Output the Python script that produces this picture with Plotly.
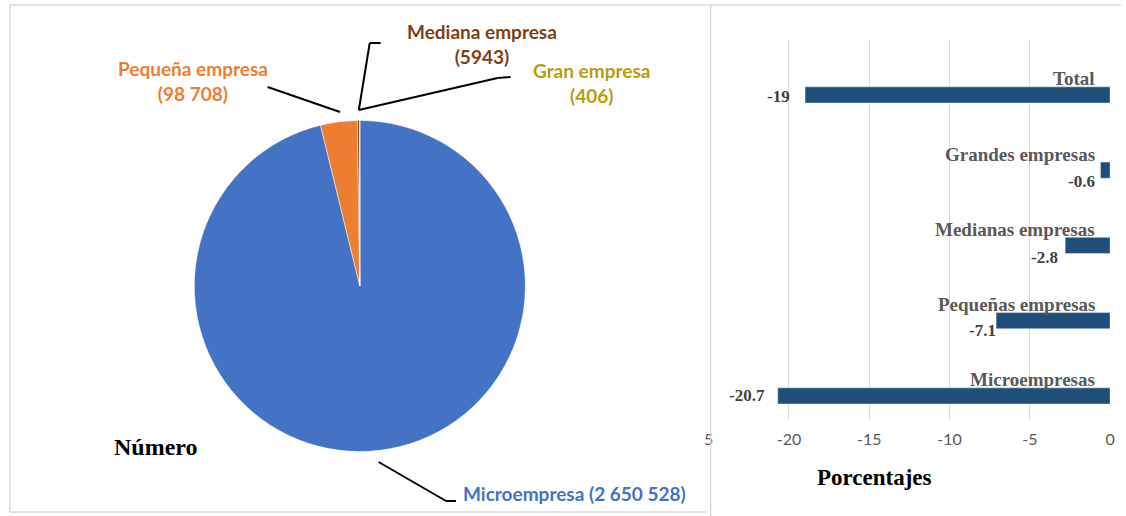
import plotly.graph_objects as go

W, H = 1126, 516

# ---- data ----
pie_labels = ["Microempresa", "Pequeña empresa", "Mediana empresa", "Gran empresa"]
pie_values = [2650528, 98708, 5943, 406]
pie_text = ["Microempresa (2 650 528)", "Pequeña empresa<br>(98 708)",
            "Mediana empresa<br>(5943)", "Gran empresa<br>(406)"]

bar_categories = ["Microempresas", "Pequeñas empresas", "Medianas empresas",
                  "Grandes empresas", "Total"]
bar_values = [-20.7, -7.1, -2.8, -0.6, -19]
bar_value_text = ["-20.7", "-7.1", "-2.8", "-0.6", "-19"]
tick_vals = [-25, -20, -15, -10, -5, 0]
tick_text = ["5", "-20", "-15", "-10", "-5", "0"]


def px(x, y):
    return x / W, 1 - y / H


fig = go.Figure()

# ---- pie ----
pie_colors = ["#4472C4", "#ED7D31", "#843C0C", "#BF9000"]
cx, cy, r = 358, 286, 167
fig.add_trace(go.Pie(
    labels=pie_labels, values=pie_values, sort=False, direction="clockwise",
    rotation=0, marker=dict(colors=pie_colors, line=dict(color="white", width=0.5)),
    textinfo="none", hoverinfo="label+value", showlegend=False,
    domain=dict(x=[(cx - r) / W, (cx + r) / W], y=[1 - (cy + r) / H, 1 - (cy - r) / H]),
))

# ---- bars ----
fig.add_trace(go.Bar(
    x=bar_values, y=bar_categories, orientation="h",
    marker=dict(color="#1F4E79"), width=0.215, showlegend=False,
    xaxis="x", yaxis="y",
))

x0p, x1p = 710 / W, 1115 / W
y_top, y_bot = 40, 420
fig.update_layout(
    width=W, height=H, margin=dict(l=0, r=0, t=0, b=0),
    paper_bgcolor="white", plot_bgcolor="white",
    xaxis=dict(domain=[x0p, x1p], range=[-25, 0], tickvals=tick_vals, ticktext=tick_text,
               showgrid=True, gridcolor="#D9D9D9", gridwidth=1, zeroline=False,
               showline=False, ticks="", tickfont=dict(family="Lato", size=16, color="#595959"),
               ticklabelstandoff=8, fixedrange=True),
    yaxis=dict(domain=[1 - y_bot / H, 1 - y_top / H], type="category",
               categoryorder="array", categoryarray=bar_categories,
               range=[-0.32, 4.73], showticklabels=False, showgrid=False,
               zeroline=False, showline=False, fixedrange=True),
)

# category labels above bars
for cat in bar_categories:
    fig.add_annotation(x=0, y=cat, xref="x", yref="y", text=cat, showarrow=False,
                       xanchor="right", yanchor="middle", xshift=-13, yshift=16,
                       font=dict(family="Liberation Serif", size=19, color="#595959",
                                 weight="bold"))

# value labels (offsets in px)
value_offsets = {"Microempresas": (-11, 0), "Pequeñas empresas": (2, -10),
                 "Medianas empresas": (-5, -12), "Grandes empresas": (-3, -11),
                 "Total": (-13, -2)}
for cat, v, t in zip(bar_categories, bar_values, bar_value_text):
    dx, dy = value_offsets[cat]
    fig.add_annotation(x=v, y=cat, xref="x", yref="y", text=t, showarrow=False,
                       xanchor="right", yanchor="middle", xshift=dx, yshift=dy,
                       font=dict(family="Liberation Serif", size=17, color="#404040",
                                 weight="bold"))

# axis title and "Número"
fig.add_annotation(x=877 / W, y=1 - 477 / H, xref="paper", yref="paper", text="Porcentajes",
                   showarrow=False, xanchor="center", yanchor="middle",
                   font=dict(family="Liberation Serif", size=23, color="black", weight="bold"))
fig.add_annotation(x=152 / W, y=1 - 447 / H, xref="paper", yref="paper", text="Número",
                   showarrow=False, xanchor="center", yanchor="middle",
                   font=dict(family="Liberation Serif", size=24, color="black", weight="bold"))

# pie labels
label_pos = [(575, 493), (190, 81), (481, 44), (592, 83)]
label_colors = ["#4472C4", "#ED7D31", "#7F3F16", "#B89D10"]
for t, (x, y), c in zip(pie_text, label_pos, label_colors):
    ax, ay = px(x, y)
    fig.add_annotation(x=ax, y=ay, xref="paper", yref="paper", text=t, showarrow=False,
                       xanchor="center", yanchor="middle", align="center",
                       font=dict(family="Lato", size=19, color=c, weight="bold"))

# leader lines
leaders = [
    [(377, 462), (445, 501), (455, 501)],
    [(265, 87), (338, 112)],
    [(357, 110), (368, 43), (379, 43)],
    [(357, 110), (497, 78), (510, 77)],
]
for pts in leaders:
    for (xa, ya), (xb, yb) in zip(pts[:-1], pts[1:]):
        pa, pb = px(xa, ya), px(xb, yb)
        fig.add_shape(type="line", xref="paper", yref="paper", x0=pa[0], y0=pa[1],
                      x1=pb[0], y1=pb[1], line=dict(color="black", width=2))

# panel borders
border = dict(color="#D9D9D9", width=1.5)
for (xa, ya), (xb, yb) in [((5, 5), (1126, 5)), ((5, 5), (5, 512)), ((5, 512), (708, 512)),
                           ((712, 5), (712, 516))]:
    pa, pb = px(xa, ya), px(xb, yb)
    fig.add_shape(type="line", xref="paper", yref="paper", x0=pa[0], y0=pa[1],
                  x1=pb[0], y1=pb[1], line=border)

fig.write_html("out.html", config={"displayModeBar": False},
               post_script="document.body.style.margin='0';document.body.style.overflow='hidden';")
